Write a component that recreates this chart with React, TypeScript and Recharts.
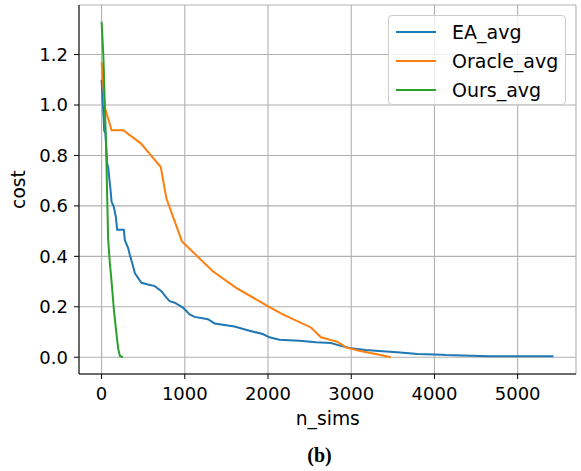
import { LineChart, Line, XAxis, YAxis, CartesianGrid, Legend } from "recharts";

const xTicks = [0, 1000, 2000, 3000, 4000, 5000];
const yTicks = [0, 0.2, 0.4, 0.6, 0.8, 1.0, 1.2];

const eaAvg = [
  { x: 0, y: 1.1 }, { x: 10, y: 1.03 }, { x: 25, y: 0.95 }, { x: 31, y: 0.898 },
  { x: 45, y: 0.89 }, { x: 67, y: 0.767 }, { x: 79, y: 0.754 }, { x: 91, y: 0.714 },
  { x: 108, y: 0.662 }, { x: 120, y: 0.616 }, { x: 147, y: 0.596 }, { x: 171, y: 0.557 },
  { x: 187, y: 0.505 }, { x: 267, y: 0.505 }, { x: 279, y: 0.465 }, { x: 319, y: 0.433 },
  { x: 339, y: 0.406 }, { x: 379, y: 0.36 }, { x: 399, y: 0.334 }, { x: 479, y: 0.295 },
  { x: 559, y: 0.288 }, { x: 639, y: 0.282 }, { x: 719, y: 0.262 }, { x: 779, y: 0.236 },
  { x: 818, y: 0.222 }, { x: 878, y: 0.216 }, { x: 978, y: 0.197 }, { x: 1058, y: 0.17 },
  { x: 1118, y: 0.16 }, { x: 1278, y: 0.151 }, { x: 1358, y: 0.134 }, { x: 1597, y: 0.122 },
  { x: 1777, y: 0.105 }, { x: 1937, y: 0.092 }, { x: 2017, y: 0.079 }, { x: 2137, y: 0.069 },
  { x: 2377, y: 0.065 }, { x: 2577, y: 0.059 }, { x: 2756, y: 0.056 }, { x: 2896, y: 0.043 },
  { x: 2976, y: 0.037 }, { x: 3175, y: 0.029 }, { x: 3375, y: 0.024 }, { x: 3554, y: 0.02 },
  { x: 3695, y: 0.016 }, { x: 3794, y: 0.013 }, { x: 4094, y: 0.01 }, { x: 4134, y: 0.009 },
  { x: 4653, y: 0.004 }, { x: 5430, y: 0.004 },
];

const oracleAvg = [
  { x: 0, y: 1.17 }, { x: 40, y: 0.99 }, { x: 120, y: 0.9 }, { x: 260, y: 0.9 },
  { x: 471, y: 0.848 }, { x: 711, y: 0.754 }, { x: 779, y: 0.629 }, { x: 966, y: 0.459 },
  { x: 1337, y: 0.341 }, { x: 1617, y: 0.275 }, { x: 1997, y: 0.203 }, { x: 2177, y: 0.17 },
  { x: 2516, y: 0.118 }, { x: 2636, y: 0.079 }, { x: 2836, y: 0.061 }, { x: 2936, y: 0.039 },
  { x: 3095, y: 0.026 }, { x: 3295, y: 0.013 }, { x: 3475, y: 0 },
];

const oursAvg = [
  { x: 0, y: 1.33 }, { x: 19, y: 1.21 }, { x: 28, y: 1.13 }, { x: 40, y: 0.977 },
  { x: 52, y: 0.872 }, { x: 67, y: 0.636 }, { x: 79, y: 0.465 }, { x: 99, y: 0.374 },
  { x: 120, y: 0.3 }, { x: 150, y: 0.18 }, { x: 180, y: 0.09 }, { x: 199, y: 0.035 },
  { x: 220, y: 0.005 }, { x: 255, y: 0 },
];

const series = [
  { name: "EA_avg", data: eaAvg, color: "#1f77b4" },
  { name: "Oracle_avg", data: oracleAvg, color: "#ff7f0e" },
  { name: "Ours_avg", data: oursAvg, color: "#2ca02c" },
];

const font = "DejaVu Sans";
const tickStyle = { fontFamily: font, fontSize: 18, fill: "#000" };

function LegendBox() {
  return (
    <div
      style={{
        border: "1px solid #cccccc",
        borderRadius: 4,
        background: "rgba(255,255,255,0.8)",
        width: 178,
        height: 90,
        boxSizing: "border-box",
        paddingTop: 2,
        fontFamily: font,
        fontSize: 19,
      }}
    >
      {series.map((s) => (
        <div key={s.name} style={{ display: "flex", alignItems: "center", height: 28.7 }}>
          <div style={{ width: 40, height: 2, background: s.color, marginLeft: 7, marginRight: 16 }} />
          <span>{s.name}</span>
        </div>
      ))}
    </div>
  );
}

export default function App() {
  return (
    <div style={{ position: "absolute", left: 0, top: 0 }}>
      <LineChart width={581} height={471} margin={{ top: 5, right: 5, left: 19, bottom: 37 }}>
        <CartesianGrid stroke="#b0b0b0" strokeWidth={1.1} />
        <XAxis
          type="number"
          dataKey="x"
          domain={[-271.5, 5701]}
          ticks={xTicks}
          allowDataOverflow
          height={60}
          stroke="#000"
          tickSize={5}
          tickMargin={8}
          tick={tickStyle}
          label={() => (
            <g>
              <text x={327.8} y={425} textAnchor="middle" fontFamily={font} fontSize={18.7} fill="#000">
                n_sims
              </text>
              <text x={319.5} y={461.5} textAnchor="middle" fontFamily="Liberation Serif" fontWeight="bold" fontSize={20} fill="#000">
                (b)
              </text>
            </g>
          )}
        />
        <XAxis xAxisId="top" orientation="top" type="number" domain={[-271.5, 5701]} height={0} tick={false} tickLine={false} stroke="#000" />
        <YAxis
          type="number"
          domain={[-0.0665, 1.3965]}
          ticks={yTicks}
          allowDataOverflow
          width={60}
          stroke="#000"
          tickSize={5}
          tickMargin={6}
          tick={tickStyle}
          tickFormatter={(v: number) => v.toFixed(1)}
          label={() => (
            <text x={25} y={189.5} transform="rotate(-90 25 189.5)" textAnchor="middle" fontFamily={font} fontSize={18.7} fill="#000">
              cost
            </text>
          )}
        />
        <YAxis yAxisId="right" orientation="right" domain={[-0.0665, 1.3965]} width={0} tick={false} tickLine={false} stroke="#000" />
        {series.map((s) => (
          <Line
            key={s.name}
            name={s.name}
            data={s.data}
            dataKey="y"
            type="linear"
            stroke={s.color}
            strokeWidth={2}
            dot={false}
            isAnimationActive={false}
          />
        ))}
        <Legend
          layout="vertical"
          align="center"
          verticalAlign="middle"
          content={() => <LegendBox />}
          wrapperStyle={{ left: 388, top: 15, width: 178, height: 90, right: "auto", bottom: "auto" }}
        />
      </LineChart>
    </div>
  );
}
